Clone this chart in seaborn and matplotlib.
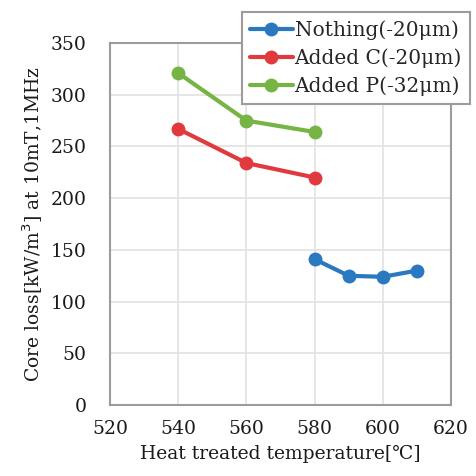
import matplotlib
matplotlib.use("Agg")
import matplotlib.pyplot as plt
import seaborn as sns
import pandas as pd

series_names = ["Nothing(-20μm)", "Added C(-20μm)", "Added P(-32μm)"]
temps_nothing = [580, 590, 600, 610]
loss_nothing = [141, 125, 124, 130]
temps_c = [540, 560, 580]
loss_c = [267, 234, 220]
temps_p = [540, 560, 580]
loss_p = [321, 275, 264]
colors = ["#2a78c0", "#e0393e", "#76b443"]
x_ticks = [520, 540, 560, 580, 600, 620]
y_ticks = [0, 50, 100, 150, 200, 250, 300, 350]

rows = []
for name, xs, ys in zip(series_names, [temps_nothing, temps_c, temps_p],
                        [loss_nothing, loss_c, loss_p]):
    for x, y in zip(xs, ys):
        rows.append({"series": name, "temp": x, "loss": y})
df = pd.DataFrame(rows)

sns.set_theme(style="white")
plt.rcParams["font.family"] = ["DejaVu Serif", "DejaVu Sans"]

fig = plt.figure(figsize=(4.77, 4.76), dpi=100)
ax = fig.add_axes([0.2306, 0.149, 0.7149, 0.7606])

sns.lineplot(data=df, x="temp", y="loss", hue="series", hue_order=series_names,
             palette=colors, marker="o", markersize=10, markeredgewidth=0,
             linewidth=3, ax=ax, legend=True)

ax.set_xlim(520, 620)
ax.set_ylim(0, 350)
ax.set_xticks(x_ticks)
ax.set_yticks(y_ticks)
ax.tick_params(axis="both", labelsize=13.5, length=0, colors="#1a1a1a")
ax.tick_params(axis="y", pad=17)
ax.tick_params(axis="x", pad=11)
ax.grid(True, color="#e2e2e2", linewidth=1.2)
for s in ax.spines.values():
    s.set_color("#a09a98")
    s.set_linewidth(1.5)

ax.set_xlabel("Heat treated temperature[℃]", fontsize=13.5, color="#1a1a1a", labelpad=5)
ax.set_ylabel("Core loss[kW/m$^3$] at 10mT,1MHz", fontsize=13.5, color="#1a1a1a", labelpad=4)

handles, labels = ax.get_legend_handles_labels()
ax.legend(handles, labels, loc="upper right",
          bbox_to_anchor=(470 / 477, 1 - 12 / 476), bbox_transform=fig.transFigure,
          fontsize=14.5, frameon=True, fancybox=False, edgecolor="#a09a98",
          framealpha=1, handlelength=2.1, handletextpad=0.1, borderpad=0.4,
          labelspacing=0.42, borderaxespad=0)
ax.get_legend().get_frame().set_linewidth(1.5)

fig.savefig("out.png", dpi=100)
